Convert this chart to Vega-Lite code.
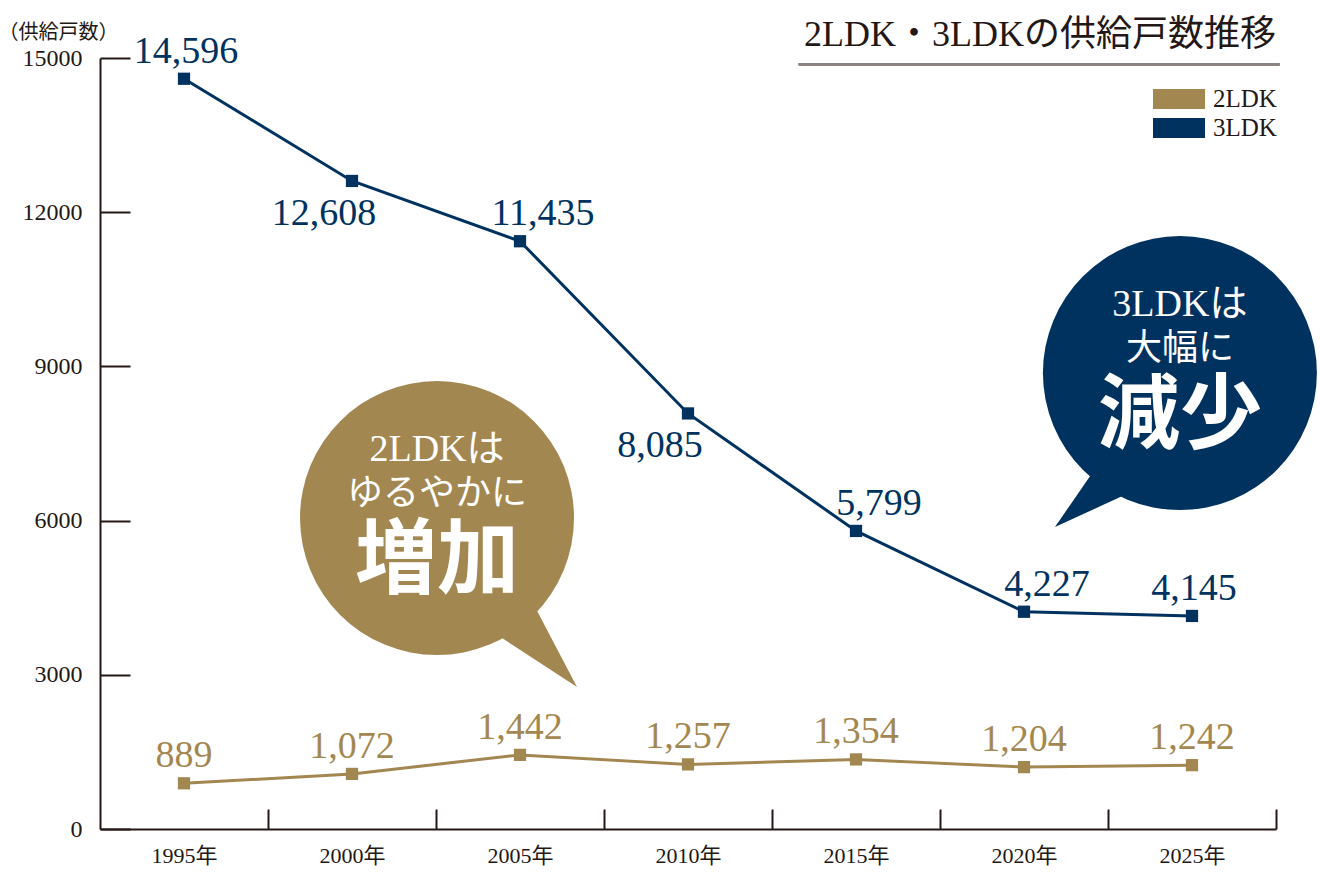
{
  "$schema": "https://vega.github.io/schema/vega-lite/v6.json",
  "width": 1176,
  "height": 771,
  "autosize": {"type": "none"},
  "padding": {"left": 100, "top": 58, "right": 44, "bottom": 51},
  "background": "white",
  "config": {
    "view": {"stroke": null},
    "font": "Liberation Serif, Noto Sans CJK JP, serif",
    "axis": {
      "grid": false,
      "domainColor": "#231815",
      "domainWidth": 2,
      "tickColor": "#231815",
      "tickWidth": 2,
      "labelColor": "#231815",
      "labelFont": "Liberation Serif, Noto Sans CJK JP, serif",
      "titleFont": "Liberation Serif, Noto Sans CJK JP, serif",
      "titleColor": "#231815"
    },
    "legend": {
      "title": null,
      "orient": "none",
      "legendX": 1066,
      "legendY": 28,
      "symbolType": "M-2,-0.77H2V0.77H-2Z",
      "symbolSize": 676,
      "symbolStrokeWidth": 0,
      "symbolOpacity": 1,
      "labelFontSize": 25,
      "labelOffset": 21,
      "rowPadding": 3,
      "labelColor": "#231815",
      "labelFont": "Liberation Serif, serif"
    }
  },
  "title": {
    "text": "2LDK・3LDKの供給戸数推移",
    "anchor": "end",
    "frame": "group",
    "fontSize": 36,
    "fontWeight": "normal",
    "color": "#231815",
    "font": "Liberation Serif, Noto Sans CJK JP, serif",
    "offset": -32
  },
  "datasets": {
    "supply": [
      {"year": 1995, "type": "2LDK", "value": 889},
      {"year": 2000, "type": "2LDK", "value": 1072},
      {"year": 2005, "type": "2LDK", "value": 1442},
      {"year": 2010, "type": "2LDK", "value": 1257},
      {"year": 2015, "type": "2LDK", "value": 1354},
      {"year": 2020, "type": "2LDK", "value": 1204},
      {"year": 2025, "type": "2LDK", "value": 1242},
      {"year": 1995, "type": "3LDK", "value": 14596},
      {"year": 2000, "type": "3LDK", "value": 12608},
      {"year": 2005, "type": "3LDK", "value": 11435},
      {"year": 2010, "type": "3LDK", "value": 8085},
      {"year": 2015, "type": "3LDK", "value": 5799},
      {"year": 2020, "type": "3LDK", "value": 4227},
      {"year": 2025, "type": "3LDK", "value": 4145}
    ],
    "notes": [
      {"type": "2LDK", "year": 2002.53, "value": 6050, "line1": "2LDKは", "line2": "ゆるやかに", "line3": "増加"},
      {"type": "3LDK", "year": 2024.64, "value": 8870, "line1": "3LDKは", "line2": "大幅に", "line3": "減少"}
    ]
  },
  "encoding": {
    "x": {
      "field": "year",
      "type": "quantitative",
      "scale": {"domain": [1992.5, 2027.5], "nice": false, "zero": false},
      "axis": {
        "title": null,
        "values": [1997.5, 2002.5, 2007.5, 2012.5, 2017.5, 2022.5, 2027.5],
        "labelExpr": "(datum.value - 2.5) + '年'",
        "labelOffset": -84,
        "tickSize": -20,
        "labelPadding": 36,
        "labelFontSize": 22,
        "labelFlush": false,
        "labelOverlap": false,
        "labelBound": false
      }
    },
    "y": {
      "field": "value",
      "type": "quantitative",
      "scale": {"domain": [0, 15000], "nice": false},
      "axis": {
        "title": "（供給戸数）",
        "titleAngle": 0,
        "titleX": -42,
        "titleY": -26,
        "titleAlign": "center",
        "titleBaseline": "middle",
        "titleFontSize": 20,
        "titleFontWeight": "normal",
        "values": [0, 3000, 6000, 9000, 12000, 15000],
        "format": "d",
        "tickSize": -30,
        "labelPadding": 48,
        "labelFontSize": 24
      }
    },
    "color": {
      "field": "type",
      "type": "nominal",
      "scale": {"domain": ["2LDK", "3LDK"], "range": ["#a38751", "#003260"]}
    }
  },
  "layer": [
    {
      "data": {"name": "notes"},
      "mark": {"type": "point", "shape": "circle", "filled": true, "size": 75076, "opacity": 1}
    },
    {
      "data": {"name": "notes"},
      "transform": [{"filter": "datum.type == '2LDK'"}],
      "mark": {"type": "point", "shape": "M0.70,0.62L1.022,1.234L0.42,0.84Z", "filled": true, "size": 75076, "opacity": 1}
    },
    {
      "data": {"name": "notes"},
      "transform": [{"filter": "datum.type == '3LDK'"}],
      "mark": {"type": "point", "shape": "M-0.62,0.70L-0.912,1.124L-0.36,0.87Z", "filled": true, "size": 75076, "opacity": 1}
    },
    {
      "data": {"name": "notes"},
      "mark": {"type": "text", "fontSize": 38, "baseline": "middle", "dy": -68},
      "encoding": {"text": {"field": "line1"}, "color": {"value": "white"}}
    },
    {
      "data": {"name": "notes"},
      "mark": {"type": "text", "fontSize": 36, "baseline": "middle", "dy": -24},
      "encoding": {"text": {"field": "line2"}, "color": {"value": "white"}}
    },
    {
      "data": {"name": "notes"},
      "mark": {"type": "text", "fontSize": 82, "fontWeight": "bold", "baseline": "middle", "dy": 44},
      "encoding": {"text": {"field": "line3"}, "color": {"value": "white"}}
    },
    {
      "data": {"name": "supply"},
      "mark": {"type": "rule", "strokeWidth": 2},
      "encoding": {
        "x": {"datum": 2013.3, "type": "quantitative"},
        "x2": {"datum": 2027.6},
        "y": {"datum": 14880, "type": "quantitative"},
        "color": {"value": "#8a8580"}
      }
    },
    {
      "data": {"name": "supply"},
      "mark": {"type": "line", "strokeWidth": 3}
    },
    {
      "data": {"name": "supply"},
      "mark": {"type": "point", "shape": "square", "filled": true, "size": 150, "opacity": 1}
    },
    {
      "data": {"name": "supply"},
      "transform": [{"filter": "datum.type == '2LDK'"}],
      "mark": {"type": "text", "fontSize": 38, "baseline": "alphabetic", "dy": -16},
      "encoding": {"text": {"field": "value", "type": "quantitative", "format": ",d"}}
    },
    {
      "data": {"name": "supply"},
      "transform": [{"filter": "datum.type == '3LDK' && (datum.year == 1995 || datum.year == 2025)"}],
      "mark": {"type": "text", "fontSize": 38, "baseline": "alphabetic", "dx": 2, "dy": -16},
      "encoding": {"text": {"field": "value", "type": "quantitative", "format": ",d"}}
    },
    {
      "data": {"name": "supply"},
      "transform": [{"filter": "datum.type == '3LDK' && (datum.year == 2005 || datum.year == 2015 || datum.year == 2020)"}],
      "mark": {"type": "text", "fontSize": 38, "baseline": "alphabetic", "dx": 23, "dy": -16},
      "encoding": {"text": {"field": "value", "type": "quantitative", "format": ",d"}}
    },
    {
      "data": {"name": "supply"},
      "transform": [{"filter": "datum.type == '3LDK' && (datum.year == 2000 || datum.year == 2010)"}],
      "mark": {"type": "text", "fontSize": 38, "baseline": "alphabetic", "dx": -28, "dy": 44},
      "encoding": {"text": {"field": "value", "type": "quantitative", "format": ",d"}}
    }
  ]
}
